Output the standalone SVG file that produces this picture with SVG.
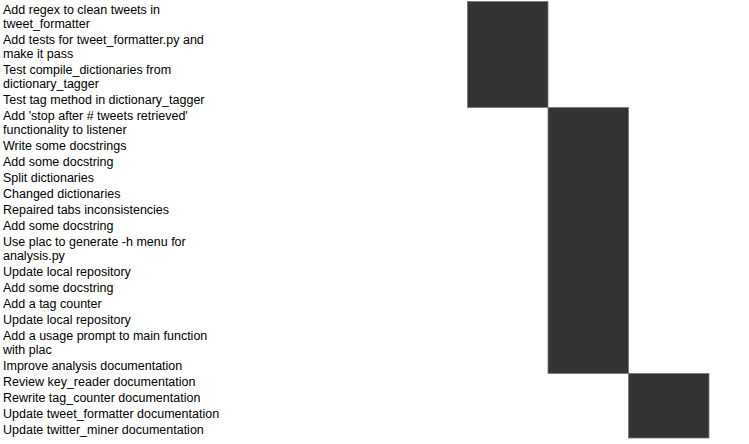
<svg xmlns="http://www.w3.org/2000/svg" width="749" height="444" viewBox="0 0 749 444">
<style>
text { font-family: "Liberation Sans", Arial, sans-serif; font-size: 12.5px; fill: #000; }
.bar { fill: #333333; stroke: #777777; stroke-width: 0.8; }
</style>
<rect width="749" height="444" fill="#ffffff"/>
<g id="labels" transform="translate(0,0.5)">
<text x="3" y="13.5">Add regex to clean tweets in</text>
<text x="3" y="27.5">tweet_formatter</text>
<text x="3" y="43.5">Add tests for tweet_formatter.py and</text>
<text x="3" y="57.5">make it pass</text>
<text x="3" y="73.5">Test compile_dictionaries from</text>
<text x="3" y="87.5">dictionary_tagger</text>
<text x="3" y="103.5">Test tag method in dictionary_tagger</text>
<text x="3" y="119.5">Add 'stop after # tweets retrieved'</text>
<text x="3" y="133.5">functionality to listener</text>
<text x="3" y="149.5">Write some docstrings</text>
<text x="3" y="165.5">Add some docstring</text>
<text x="3" y="181.5">Split dictionaries</text>
<text x="3" y="197.5">Changed dictionaries</text>
<text x="3" y="213.5">Repaired tabs inconsistencies</text>
<text x="3" y="229.5">Add some docstring</text>
<text x="3" y="245.5">Use plac to generate -h menu for</text>
<text x="3" y="259.5">analysis.py</text>
<text x="3" y="275.5">Update local repository</text>
<text x="3" y="291.5">Add some docstring</text>
<text x="3" y="307.5">Add a tag counter</text>
<text x="3" y="323.5">Update local repository</text>
<text x="3" y="339.5">Add a usage prompt to main function</text>
<text x="3" y="353.5">with plac</text>
<text x="3" y="369.5">Improve analysis documentation</text>
<text x="3" y="385.5">Review key_reader documentation</text>
<text x="3" y="401.5">Rewrite tag_counter documentation</text>
<text x="3" y="417.5">Update tweet_formatter documentation</text>
<text x="3" y="433.5">Update twitter_miner documentation</text>
</g>
<g id="bar1"><rect class="bar" x="467.5" y="1.5" width="80.5" height="106"/></g>
<g id="bar2"><rect class="bar" x="548" y="107.5" width="80.5" height="266"/></g>
<g id="bar3"><rect class="bar" x="628.5" y="373.5" width="80.5" height="64.5"/></g>
<g id="connectors"></g>
</svg>
